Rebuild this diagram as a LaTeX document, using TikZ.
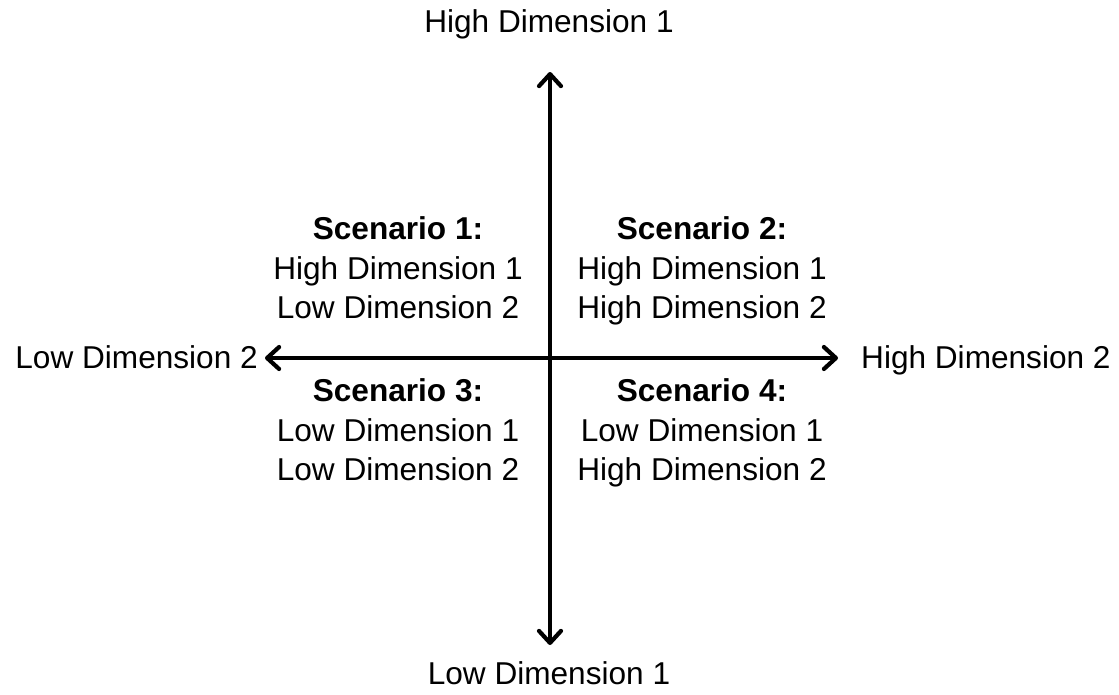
\documentclass[tikz,border=0pt]{standalone}
\usepackage{fontspec}
\setsansfont{Liberation Sans}
\usetikzlibrary{arrows.meta}

\begin{document}
\begin{tikzpicture}[
    x=1pt, y=-1pt,
    font=\sffamily\fontsize{31.6}{39.5}\selectfont,
    axistip/.tip={Straight Barb[length=12pt,width=22pt,line width=4.2pt,line cap=round,line join=round]},
    axis/.style={line width=3.6pt, axistip-axistip},
    label/.style={inner sep=0pt, align=center},
    quad/.style={inner sep=0pt, align=center, text depth=7pt}
]
\useasboundingbox (0,0) rectangle (1119,694);

% axis ends
\coordinate (top) at (550,72);
\coordinate (bottom) at (550,645);
\coordinate (left) at (265,358);
\coordinate (right) at (838,358);

\draw[axis] (bottom) -- (top);
\draw[axis] (left) -- (right);

% axis labels
\node[label, anchor=base] (highdim1) at (549,32) {High Dimension 1};
\node[label, anchor=base] (lowdim1) at (549,684) {Low Dimension 1};
\node[label, anchor=base east] (lowdim2) at (258,368) {Low Dimension 2};
\node[label, anchor=base west] (highdim2) at (861,368) {High Dimension 2};

% quadrants
\node[quad] (scen1) at (398,271.5) {\textbf{Scenario 1:}\\High Dimension 1\\Low Dimension 2};
\node[quad] (scen2) at (702,271.5) {\textbf{Scenario 2:}\\High Dimension 1\\High Dimension 2};
\node[quad] (scen3) at (398,433.5) {\textbf{Scenario 3:}\\Low Dimension 1\\Low Dimension 2};
\node[quad] (scen4) at (702,433.5) {\textbf{Scenario 4:}\\Low Dimension 1\\High Dimension 2};

\end{tikzpicture}
\end{document}
